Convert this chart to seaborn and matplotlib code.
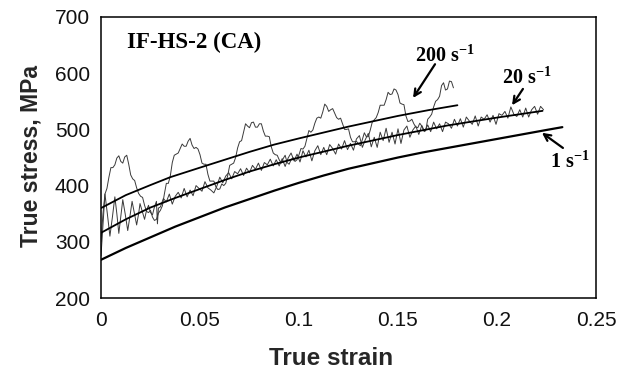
import numpy as np
import pandas as pd
import seaborn as sns
import matplotlib
matplotlib.use("Agg")
import matplotlib.pyplot as plt

# ---------------- data ----------------
# smooth fitted curves
fit200_strain = [0.0, 0.0125, 0.025, 0.035, 0.05, 0.0625, 0.075, 0.0875, 0.1, 0.125, 0.15, 0.165, 0.18]
fit200_stress = [360, 383, 401, 415, 432, 446, 460, 473, 484, 505, 524, 534, 543]

fit20_strain = [0.0, 0.0125, 0.025, 0.0375, 0.05, 0.0625, 0.075, 0.0875, 0.1, 0.125, 0.15, 0.175, 0.2, 0.223]
fit20_stress = [316, 340, 361, 378, 394, 410, 425, 438, 450, 471, 490, 507, 521, 533]

s1_strain = [0.0, 0.0125, 0.025, 0.0375, 0.05, 0.0625, 0.075, 0.0875, 0.1, 0.1125,
             0.125, 0.1375, 0.15, 0.1625, 0.175, 0.1875, 0.2, 0.2125, 0.225, 0.233]
s1_stress = [268, 289, 308, 327, 344, 361, 376, 391, 405, 418,
             430, 440, 450, 459, 467, 475, 483, 491, 499, 504]

# raw (noisy) 200 1/s curve
raw200_strain = [
    0.000, 0.001, 0.002, 0.003, 0.004, 0.005, 0.006, 0.007, 0.008, 0.009,
    0.010, 0.011, 0.012, 0.013, 0.014, 0.015, 0.016, 0.017, 0.018, 0.019,
    0.020, 0.021, 0.022, 0.023, 0.024, 0.025, 0.026, 0.027, 0.028, 0.029,
    0.030, 0.031, 0.032, 0.033, 0.034, 0.035, 0.036, 0.037, 0.038, 0.039,
    0.040, 0.041, 0.042, 0.043, 0.044, 0.045, 0.046, 0.047, 0.048, 0.049,
    0.050, 0.051, 0.052, 0.053, 0.054, 0.055, 0.056, 0.057, 0.058, 0.059,
    0.060, 0.061, 0.062, 0.063, 0.064, 0.065, 0.066, 0.067, 0.068, 0.069,
    0.070, 0.071, 0.072, 0.073, 0.074, 0.075, 0.076, 0.077, 0.078, 0.079,
    0.080, 0.081, 0.082, 0.083, 0.084, 0.085, 0.086, 0.087, 0.088, 0.089,
    0.090, 0.091, 0.092, 0.093, 0.094, 0.095, 0.096, 0.097, 0.098, 0.099,
    0.100, 0.101, 0.102, 0.103, 0.104, 0.105, 0.106, 0.107, 0.108, 0.109,
    0.110, 0.111, 0.112, 0.113, 0.114, 0.115, 0.116, 0.117, 0.118, 0.119,
    0.120, 0.121, 0.122, 0.123, 0.124, 0.125, 0.126, 0.127, 0.128, 0.129,
    0.130, 0.131, 0.132, 0.133, 0.134, 0.135, 0.136, 0.137, 0.138, 0.139,
    0.140, 0.141, 0.142, 0.143, 0.144, 0.145, 0.146, 0.147, 0.148, 0.149,
    0.150, 0.151, 0.152, 0.153, 0.154, 0.155, 0.156, 0.157, 0.158, 0.159,
    0.160, 0.161, 0.162, 0.163, 0.164, 0.165, 0.166, 0.167, 0.168, 0.169,
    0.170, 0.171, 0.172, 0.173, 0.174, 0.175, 0.176, 0.177, 0.178]
raw200_stress = [
    300, 350, 385, 395, 415, 432, 432, 437, 449, 453,
    443, 440, 451, 454, 438, 419, 412, 409, 396, 386,
    381, 379, 365, 354, 352, 356, 344, 338, 340, 351,
    356, 364, 385, 404, 404, 417, 441, 454, 456, 458,
    466, 474, 470, 470, 479, 484, 472, 466, 468, 465,
    455, 440, 438, 438, 420, 408, 408, 408, 398, 393,
    394, 403, 400, 404, 418, 436, 438, 440, 450, 467,
    478, 480, 495, 510, 506, 503, 512, 513, 504, 504,
    510, 510, 497, 488, 488, 487, 469, 458, 455, 454,
    446, 440, 448, 454, 441, 438, 446, 450, 443, 446,
    455, 466, 465, 470, 484, 498, 495, 499, 511, 520,
    522, 520, 531, 545, 541, 532, 535, 537, 529, 521,
    518, 520, 510, 500, 500, 501, 486, 478, 478, 479,
    474, 471, 482, 494, 487, 487, 499, 513, 517, 521,
    530, 543, 543, 543, 553, 566, 562, 563, 572, 570,
    562, 547, 545, 544, 524, 514, 515, 518, 510, 504,
    503, 511, 506, 497, 498, 518, 522, 527, 540, 550,
    553, 559, 578, 583, 570, 572, 586, 585, 574]

# raw (noisy) 20 1/s curve
raw20_strain = [
    0.000, 0.001, 0.002, 0.0032, 0.0045, 0.0058, 0.007, 0.008, 0.009, 0.010,
    0.011, 0.0122, 0.0135, 0.0146, 0.0157, 0.0168, 0.018, 0.019, 0.0197, 0.021,
    0.022, 0.023, 0.024, 0.025, 0.026, 0.027, 0.028, 0.0285, 0.029,
    0.0300, 0.0315, 0.0330, 0.0345, 0.0360, 0.0375, 0.0390, 0.0405, 0.0420, 0.0435,
    0.0450, 0.0465, 0.0480, 0.0495, 0.0510, 0.0525, 0.0540, 0.0555, 0.0570, 0.0585,
    0.0600, 0.0615, 0.0630, 0.0645, 0.0660, 0.0675, 0.0690, 0.0705, 0.0720, 0.0735,
    0.0750, 0.0765, 0.0780, 0.0795, 0.0810, 0.0825, 0.0840, 0.0855, 0.0870, 0.0885,
    0.0900, 0.0915, 0.0930, 0.0945, 0.0960, 0.0975, 0.0990, 0.1005, 0.1020, 0.1035,
    0.1050, 0.1065, 0.1080, 0.1095, 0.1110, 0.1125, 0.1140, 0.1155, 0.1170, 0.1185,
    0.1200, 0.1215, 0.1230, 0.1245, 0.1260, 0.1275, 0.1290, 0.1305, 0.1320, 0.1335,
    0.1350, 0.1365, 0.1380, 0.1395, 0.1410, 0.1425, 0.1440, 0.1455, 0.1470, 0.1485,
    0.1500, 0.1515, 0.1530, 0.1545, 0.1560, 0.1575, 0.1590, 0.1605, 0.1620, 0.1635,
    0.1650, 0.1665, 0.1680, 0.1695, 0.1710, 0.1725, 0.1740, 0.1755, 0.1770, 0.1785,
    0.1800, 0.1815, 0.1830, 0.1845, 0.1860, 0.1875, 0.1890, 0.1905, 0.1920, 0.1935,
    0.1950, 0.1965, 0.1980, 0.1995, 0.2010, 0.2025, 0.2040, 0.2055, 0.2070, 0.2085,
    0.2100, 0.2115, 0.2130, 0.2145, 0.2160, 0.2175, 0.2190, 0.2205, 0.2220, 0.2235]
raw20_stress = [
    275, 330, 385, 350, 310, 345, 380, 350, 315, 345,
    375, 350, 320, 345, 372, 352, 330, 350, 368, 352,
    340, 356, 365, 352, 348, 362, 372, 332, 360,
    362, 377, 371, 385, 367, 381, 388, 378, 395, 380,
    392, 382, 400, 395, 390, 407, 396, 392, 387, 399,
    415, 405, 417, 423, 412, 425, 421, 430, 418, 431,
    423, 436, 429, 440, 427, 441, 437, 447, 435, 446,
    435, 448, 434, 449, 458, 444, 456, 442, 462, 451,
    463, 444, 462, 471, 455, 468, 455, 473, 466, 456,
    474, 465, 480, 464, 475, 463, 483, 489, 468, 482,
    493, 469, 486, 468, 495, 480, 502, 477, 495, 474,
    501, 475, 499, 506, 486, 499, 506, 491, 507, 496,
    508, 496, 513, 501, 510, 496, 513, 510, 502, 518,
    506, 519, 504, 522, 515, 509, 524, 506, 522, 518,
    526, 513, 525, 509, 528, 525, 532, 520, 540, 527,
    523, 535, 522, 538, 522, 535, 541, 527, 541, 535]

# annotation texts
title_text = "IF-HS-2 (CA)"
rate_labels = ["200 s$^{\\mathregular{-1}}$", "20 s$^{\\mathregular{-1}}$", "1 s$^{\\mathregular{-1}}$"]
x_ticks = [0, 0.05, 0.1, 0.15, 0.2, 0.25]
x_ticklabels = ["0", "0.05", "0.1", "0.15", "0.2", "0.25"]
y_ticks = [200, 300, 400, 500, 600, 700]

# ---------------- styling ----------------
sns.set_theme(style="white")
plt.rcParams['font.family'] = ['Liberation Sans', 'DejaVu Sans']
plt.rcParams['mathtext.fontset'] = 'custom'
plt.rcParams['mathtext.rm'] = 'Liberation Serif:bold'
plt.rcParams['mathtext.bf'] = 'Liberation Serif:bold'

fig = plt.figure(figsize=(6.2, 3.72), dpi=100)
ax = fig.add_axes([101/620, 1-298/372, (596-101)/620, (298-17)/372])

raw_color = "#3a3a3a"
sns.lineplot(x=raw200_strain, y=raw200_stress, ax=ax, color=raw_color, lw=0.7,
             sort=False, estimator=None)
sns.lineplot(x=raw20_strain, y=raw20_stress, ax=ax, color=raw_color, lw=0.7,
             sort=False, estimator=None)
sns.lineplot(x=s1_strain, y=s1_stress, ax=ax, color="black", lw=1.6,
             sort=False, estimator=None)
sns.lineplot(x=fit200_strain, y=fit200_stress, ax=ax, color="black", lw=1.3,
             sort=False, estimator=None)
sns.lineplot(x=fit20_strain, y=fit20_stress, ax=ax, color="black", lw=1.3,
             sort=False, estimator=None)

ax.set_xlim(0, 0.25)
ax.set_ylim(200, 700)
ax.set_xticks(x_ticks)
ax.set_xticklabels(x_ticklabels)
ax.set_yticks(y_ticks)
ax.tick_params(axis='both', direction='in', length=5, width=1, color='black',
               labelsize=15, labelcolor='#111111')
ax.tick_params(axis='x', pad=9)
ax.tick_params(axis='y', pad=8)
for s in ax.spines.values():
    s.set_color('black')
    s.set_linewidth(1.1)

ax.set_xlabel("True strain", fontsize=17.5, fontweight='bold')
ax.set_ylabel("True stress, MPa", fontsize=16.5, fontweight='bold')
ax.xaxis.set_label_coords(0.465, -0.174)
ax.yaxis.set_label_coords(-0.119, 0.505)

serif_bold = dict(family='Liberation Serif', fontweight='bold', color='black')
ax.text(0.0131, 645, title_text, fontsize=16.5, ha='left', va='baseline', **serif_bold)

ax.text(0.1586, 620, rate_labels[0], fontsize=14.5, ha='left', va='baseline', **serif_bold)
ax.text(0.2025, 582, rate_labels[1], fontsize=14.5, ha='left', va='baseline', **serif_bold)
ax.text(0.2268, 431, rate_labels[2], fontsize=14.5, ha='left', va='baseline', **serif_bold)

arrow = dict(arrowstyle='->', color='black', lw=1.6, mutation_scale=12, shrinkA=0, shrinkB=0)
ax.annotate("", xy=(0.1576, 556), xytext=(0.1687, 616), arrowprops=arrow)
ax.annotate("", xy=(0.2076, 543), xytext=(0.2131, 572), arrowprops=arrow)
ax.annotate("", xy=(0.2227, 494), xytext=(0.2333, 467), arrowprops=arrow)

fig.savefig("out.png", dpi=100)
